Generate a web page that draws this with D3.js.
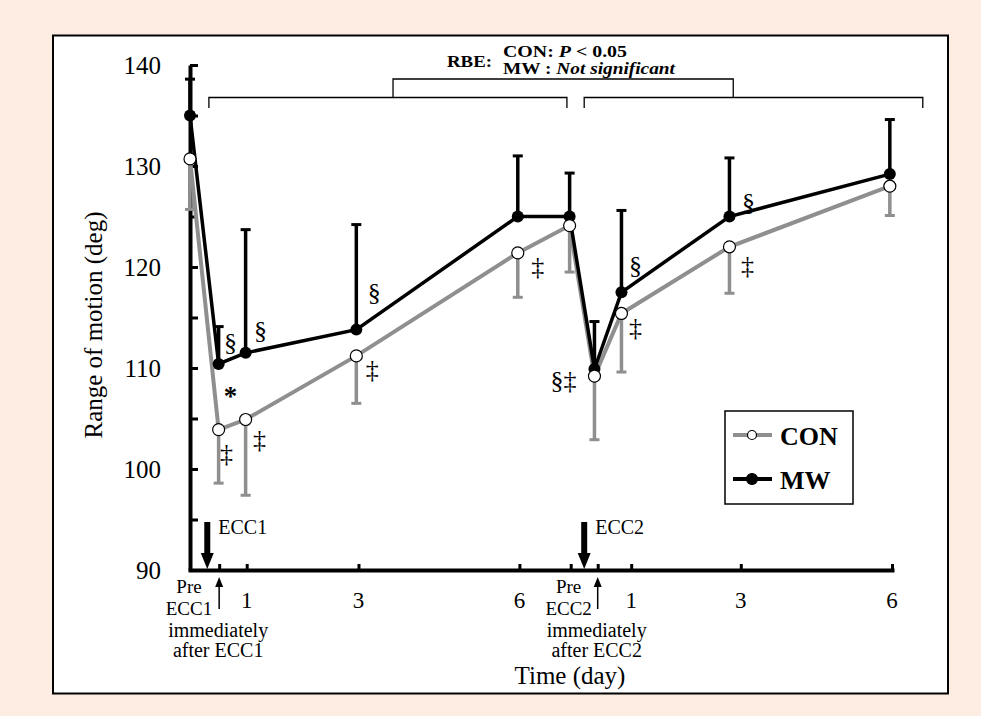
<!DOCTYPE html>
<html>
<head>
<meta charset="utf-8">
<script src="https://cdn.jsdelivr.net/npm/d3@7"></script>
<style>
  body { margin: 0; background: #fdece1; }
  text { font-family: "Liberation Serif", "Times New Roman", serif; fill: #000; }
</style>
</head>
<body>
<div id="chart"></div>
<script>
// time points along the broken time axis (in "day" units, ECC2 block starts at ~7)
var timeNames = ["Pre ECC1", "immediately after ECC1", "1", "3", "6", "Pre ECC2", "immediately after ECC2", "1", "3", "6"];
var timeX = [0, 0.53, 1.03, 3.08, 6.07, 7.03, 7.49, 7.99, 9.99, 12.96];
var tickX = [0, 0.54, 1.05, 3.12, 6.1, 7.05, 7.55, 8.17, 10.2, 13];
var dayLabels = ["", "", "1", "3", "6", "", "", "1", "3", "6"];

// range of motion (deg), mean and SD
var conMean = [130.7, 103.9, 104.9, 111.2, 121.4, 124.1, 109.2, 115.4, 122.0, 128.0];
var conSD   = [5.0, 5.3, 7.5, 4.7, 4.4, 4.6, 6.3, 5.8, 4.6, 2.9];
var mwMean  = [135.0, 110.4, 111.5, 113.8, 125.0, 125.0, 109.9, 117.5, 125.0, 129.2];
var mwSD    = [3.6, 3.7, 12.2, 10.4, 6.0, 4.3, 4.7, 8.1, 5.8, 5.4];

var yTicks = [90, 95, 100, 105, 110, 115, 120, 125, 130, 135, 140];

// significance marks: series, time index, symbol
var notes = [
  ["MW", 1, "§"], ["MW", 2, "§"], ["MW", 3, "§"], ["MW", 7, "§"], ["MW", 8, "§"],
  ["CON", 1, "‡"], ["CON", 2, "‡"], ["CON", 3, "‡"], ["CON", 4, "‡"], ["CON", 7, "‡"], ["CON", 8, "‡"],
  ["CON", 6, "§‡"], ["MW", 1, "*"]
];
// pixel offsets of each mark from its point
var noteOffsets = [
  [12, -21], [15, -22], [18, -37], [14, -26], [19, -14],
  [8, 24], [14, 20], [16, 14], [20, 14], [14, 15], [18, 19],
  [-31, 5], [12, 26]
];

var W = 981, H = 716;
var svg = d3.select("#chart").append("svg")
  .attr("width", W)
  .attr("height", H);

// white panel
svg.append("rect")
  .attr("x", 53).attr("y", 35.5)
  .attr("width", 895).attr("height", 658)
  .attr("fill", "#fff")
  .attr("stroke", "#000")
  .attr("stroke-width", 2);

var x = d3.scaleLinear().domain([0, 13]).range([190, 892]);
var y = d3.scaleLinear().domain([90, 140]).range([570, 65]);

// y axis
var yAxis = svg.append("g")
  .attr("transform", "translate(" + x(0) + ",0)")
  .call(d3.axisLeft(y)
    .tickValues(yTicks)
    .tickSize(-8)
    .tickSizeOuter(0)
    .tickPadding(29)
    .tickFormat(function(d) { return d % 10 == 0 ? d : ""; }));
yAxis.select(".domain").attr("stroke-width", 4);
yAxis.selectAll(".tick line").attr("stroke-width", 3);
yAxis.selectAll(".tick text")
  .style("font-size", "25px");

// x axis
var xAxis = svg.append("g")
  .attr("transform", "translate(0," + y(90) + ")")
  .call(d3.axisBottom(x)
    .tickValues(tickX)
    .tickSize(-6)
    .tickSizeOuter(0)
    .tickFormat(""));
xAxis.select(".domain").attr("stroke-width", 4).attr("stroke-linecap", "square");
xAxis.selectAll(".tick line").attr("stroke-width", 3);

// day numbers
svg.selectAll(".daylab")
  .data(dayLabels)
  .enter().append("text")
  .attr("class", "daylab")
  .attr("x", function(d, i) { return x(tickX[i]); })
  .attr("y", 608)
  .attr("text-anchor", "middle")
  .style("font-size", "23px")
  .text(function(d) { return d; });

// Pre / immediately after labels
[0, 5].forEach(function(i, k) {
  var n = k + 1;
  svg.append("text").attr("x", x(timeX[i]) - 1).attr("y", 593)
    .attr("text-anchor", "middle").style("font-size", "19px").text("Pre");
  svg.append("text").attr("x", x(timeX[i]) - 1).attr("y", 615)
    .attr("text-anchor", "middle").style("font-size", "19px").text("ECC" + n);
  svg.append("text").attr("x", x(tickX[i + 1]) - 1).attr("y", 637)
    .attr("text-anchor", "middle").style("font-size", "20px").text("immediately");
  svg.append("text").attr("x", x(tickX[i + 1]) - 1).attr("y", 657)
    .attr("text-anchor", "middle").style("font-size", "20px").text("after ECC" + n);

  // thin up arrow pointing at the "immediately after" tick
  var ax = x(tickX[i + 1]);
  svg.append("line").attr("x1", ax).attr("x2", ax).attr("y1", 609).attr("y2", 584)
    .attr("stroke", "#000").attr("stroke-width", 1.5);
  svg.append("path")
    .attr("d", "M" + (ax - 4) + ",587L" + (ax + 4) + ",587L" + ax + ",577Z")
    .attr("fill", "#000");
});

// thick down arrows for the exercise bouts
var eccX = [0.32, 7.3];
eccX.forEach(function(e, k) {
  var ex = x(e);
  svg.append("line").attr("x1", ex).attr("x2", ex).attr("y1", 522).attr("y2", 556)
    .attr("stroke", "#000").attr("stroke-width", 6);
  svg.append("path")
    .attr("d", "M" + (ex - 6.5) + ",553L" + (ex + 6.5) + ",553L" + ex + ",569Z")
    .attr("fill", "#000");
  svg.append("text").attr("x", ex + 11).attr("y", 534)
    .style("font-size", "20px").text("ECC" + (k + 1));
});

// axis titles
svg.append("text")
  .attr("transform", "translate(102,325) rotate(-90)")
  .attr("text-anchor", "middle")
  .style("font-size", "25px")
  .text("Range of motion (deg)");

svg.append("text")
  .attr("x", 570).attr("y", 684)
  .attr("text-anchor", "middle")
  .style("font-size", "25px")
  .text("Time (day)");

// error bars
function errorBars(mean, sd, dir, color, cls) {
  var g = svg.append("g").attr("class", cls);
  g.selectAll("line.v")
    .data(mean)
    .enter().append("line")
    .attr("class", "v")
    .attr("x1", function(d, i) { return x(timeX[i]); })
    .attr("x2", function(d, i) { return x(timeX[i]); })
    .attr("y1", function(d) { return y(d); })
    .attr("y2", function(d, i) { return y(d + dir * sd[i]); })
    .attr("stroke", color)
    .attr("stroke-width", 3.5);
  g.selectAll("line.cap")
    .data(mean)
    .enter().append("line")
    .attr("class", "cap")
    .attr("x1", function(d, i) { return x(timeX[i]) - 5; })
    .attr("x2", function(d, i) { return x(timeX[i]) + 5; })
    .attr("y1", function(d, i) { return y(d + dir * sd[i]); })
    .attr("y2", function(d, i) { return y(d + dir * sd[i]); })
    .attr("stroke", color)
    .attr("stroke-width", 3);
}

var line = d3.line()
  .x(function(d, i) { return x(timeX[i]); })
  .y(function(d) { return y(d); });

errorBars(conMean, conSD, -1, "#8f8f8f", "conErr");
errorBars(mwMean, mwSD, 1, "#000", "mwErr");

svg.append("path")
  .datum(conMean)
  .attr("d", line)
  .attr("fill", "none")
  .attr("stroke", "#8f8f8f")
  .attr("stroke-width", 4);

svg.append("path")
  .datum(mwMean)
  .attr("d", line)
  .attr("fill", "none")
  .attr("stroke", "#000")
  .attr("stroke-width", 3.5);

svg.selectAll(".mwdot")
  .data(mwMean)
  .enter().append("circle")
  .attr("class", "mwdot")
  .attr("cx", function(d, i) { return x(timeX[i]); })
  .attr("cy", function(d) { return y(d); })
  .attr("r", 6)
  .attr("fill", "#000");

svg.selectAll(".condot")
  .data(conMean)
  .enter().append("circle")
  .attr("class", "condot")
  .attr("cx", function(d, i) { return x(timeX[i]); })
  .attr("cy", function(d) { return y(d); })
  .attr("r", 6)
  .attr("fill", "#fff")
  .attr("stroke", "#000")
  .attr("stroke-width", 1.2);

// significance symbols
svg.selectAll(".note")
  .data(notes)
  .enter().append("text")
  .attr("class", "note")
  .attr("x", function(d, k) {
    return x(timeX[d[1]]) + noteOffsets[k][0];
  })
  .attr("y", function(d, k) {
    var m = d[0] == "MW" ? mwMean : conMean;
    var shift = d[2] == "*" ? 15 : 8;
    return y(m[d[1]]) + noteOffsets[k][1] + shift;
  })
  .attr("text-anchor", "middle")
  .style("font-size", function(d) { return d[2] == "*" ? "27px" : "26px"; })
  .style("font-weight", function(d) { return d[2] == "*" ? "bold" : "normal"; })
  .text(function(d) { return d[2]; });

// RBE brackets
var bracketTop = [3.76, 10.06];
var brackets = [[0.35, 6.98], [7.3, 13.57]];
svg.append("path")
  .attr("d", "M" + x(bracketTop[0]) + ",97.5V79H" + x(bracketTop[1]) + "V97.5")
  .attr("fill", "none").attr("stroke", "#000").attr("stroke-width", 1.3);
brackets.forEach(function(b) {
  svg.append("path")
    .attr("d", "M" + x(b[0]) + ",108V97.5H" + x(b[1]) + "V108")
    .attr("fill", "none").attr("stroke", "#000").attr("stroke-width", 1.3);
});

// the source text is a bit wide, so stretch it with textLength
svg.append("text").attr("x", 447).attr("y", 67)
  .attr("textLength", 45).attr("lengthAdjust", "spacingAndGlyphs")
  .style("font-size", "16px").style("font-weight", "bold").text("RBE:");

var t1 = svg.append("text").attr("x", 503).attr("y", 57)
  .attr("textLength", 124).attr("lengthAdjust", "spacingAndGlyphs")
  .style("font-size", "16px").style("font-weight", "bold");
t1.append("tspan").text("CON: ");
t1.append("tspan").style("font-style", "italic").text("P");
t1.append("tspan").text(" < 0.05");

var t2 = svg.append("text").attr("x", 503).attr("y", 74)
  .attr("textLength", 172).attr("lengthAdjust", "spacingAndGlyphs")
  .style("font-size", "16px").style("font-weight", "bold");
t2.append("tspan").text("MW : ");
t2.append("tspan").style("font-style", "italic").text("Not significant");

// legend
var legend = svg.append("g");
legend.append("rect")
  .attr("x", 725).attr("y", 411)
  .attr("width", 128).attr("height", 93)
  .attr("fill", "#fff")
  .attr("stroke", "#000")
  .attr("stroke-width", 1.5);

var legItems = [
  {name: "CON", color: "#8f8f8f", fill: "#fff", y: 435},
  {name: "MW", color: "#000", fill: "#000", y: 479}
];
legItems.forEach(function(d) {
  legend.append("line")
    .attr("x1", 733).attr("x2", 772)
    .attr("y1", d.y).attr("y2", d.y)
    .attr("stroke", d.color).attr("stroke-width", 4);
  legend.append("circle")
    .attr("cx", 752).attr("cy", d.y).attr("r", d.name == "CON" ? 4.5 : 5.5)
    .attr("fill", d.fill).attr("stroke", "#000").attr("stroke-width", 1.2);
  legend.append("text")
    .attr("x", 780).attr("y", d.y + 10)
    .style("font-size", "26px").style("font-weight", "bold")
    .text(d.name);
});
</script>
</body>
</html>
